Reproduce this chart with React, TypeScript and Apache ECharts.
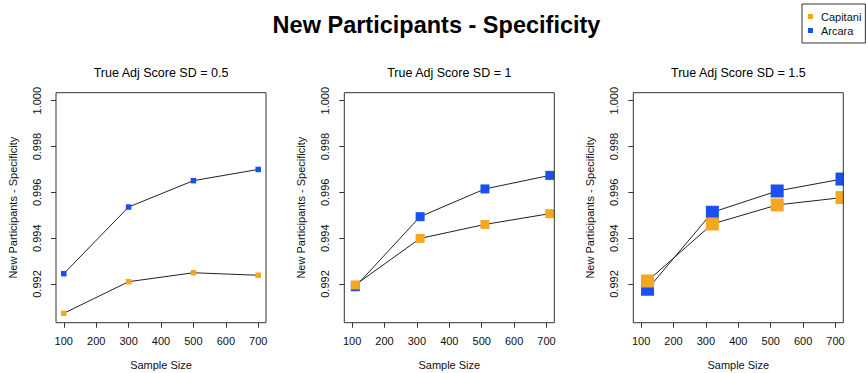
import { useEffect, useRef } from "react";
import * as echarts from "echarts";

// Panel headings and axis ticks
const mainTitle = "New Participants - Specificity";
const panelTitles = ["True Adj Score SD = 0.5", "True Adj Score SD = 1", "True Adj Score SD = 1.5"];
const sampleSizeTicks = [100, 200, 300, 400, 500, 600, 700];
const specificityTicks = [0.992, 0.994, 0.996, 0.998, 1.0];

// Sample sizes (slightly offset per panel so the points don't sit on top of each other)
const sampleSizes05 = [100, 300, 500, 700];
const sampleSizes10 = [110, 310, 510, 710];
const sampleSizes15 = [120, 320, 520, 720];

// Specificity for new participants
const capitani05 = [0.99072, 0.9921, 0.99249, 0.99238];
const arcara05 = [0.99245, 0.99536, 0.99651, 0.997];
const capitani10 = [0.99196, 0.99399, 0.9946, 0.99507];
const arcara10 = [0.99188, 0.99494, 0.99615, 0.99674];
const capitani15 = [0.99213, 0.99462, 0.99545, 0.99577];
const arcara15 = [0.99177, 0.99513, 0.99606, 0.99658];

const ORANGE = "#f5a623";
const BLUE = "#1a4ff0";
const FONT = "'Liberation Sans', Arial, Helvetica, sans-serif";

// Plot layout
const PANEL_LEFT = [56, 344.3, 633.3];
const PANEL_W = 210;
const PANEL_TOP = 92.7;
const PANEL_H = 230;
const X_MIN = 76;
const X_MAX = 724;
const Y_MIN = 0.99031;
const Y_MAX = 1.00035;
const MARKER_SIZE = [5.5, 9, 13];

const panels = [
  { x: sampleSizes05, capitani: capitani05, arcara: arcara05 },
  { x: sampleSizes10, capitani: capitani10, arcara: arcara10 },
  { x: sampleSizes15, capitani: capitani15, arcara: arcara15 },
];

const pairs = (xs: number[], ys: number[]) => xs.map((x, i) => [x, ys[i]]);

export default function App() {
  const ref = useRef<HTMLDivElement>(null);

  useEffect(() => {
    if (!ref.current) return;
    const chart = echarts.init(ref.current, undefined, { renderer: "svg" });

    const grids = PANEL_LEFT.map((left) => ({
      left,
      top: PANEL_TOP,
      width: PANEL_W,
      height: PANEL_H,
      show: false,
      outerBoundsMode: "none",
      containLabel: false,
    }));

    const xAxes = PANEL_LEFT.map((_, i) => ({
      type: "value",
      gridIndex: i,
      min: X_MIN,
      max: X_MAX,
      name: "Sample Size",
      nameLocation: "middle",
      nameGap: 37,
      nameTextStyle: { fontFamily: FONT, fontSize: 11, color: "#111" },
      axisLine: { show: false },
      axisTick: { show: true, length: 5, customValues: sampleSizeTicks, lineStyle: { color: "#333", width: 1 } },
      axisLabel: {
        customValues: sampleSizeTicks,
        margin: 13,
        fontFamily: FONT,
        fontSize: 11,
        color: "#111",
      },
      splitLine: { show: false },
    }));

    const yAxes = PANEL_LEFT.map((_, i) => ({
      type: "value",
      gridIndex: i,
      min: Y_MIN,
      max: Y_MAX,
      name: "New Participants - Specificity",
      nameLocation: "middle",
      nameRotate: 90,
      nameGap: 38,
      nameTextStyle: { fontFamily: FONT, fontSize: 11, color: "#111" },
      axisLine: { show: false },
      axisTick: { show: true, length: 5, customValues: specificityTicks, lineStyle: { color: "#333", width: 1 } },
      axisLabel: {
        customValues: specificityTicks,
        rotate: 90,
        margin: 14,
        fontFamily: FONT,
        fontSize: 11,
        color: "#111",
        formatter: (v: number) => v.toFixed(3),
      },
      splitLine: { show: false },
    }));

    const series: any[] = [];
    panels.forEach((p, i) => {
      const common = {
        type: "line",
        xAxisIndex: i,
        yAxisIndex: i,
        symbol: "rect",
        symbolSize: MARKER_SIZE[i],
        showSymbol: true,
        clip: true,
        lineStyle: { color: "#222", width: 1 },
      };
      series.push({
        ...common,
        name: "Arcara",
        color: BLUE,
        itemStyle: { color: BLUE, borderWidth: 0 },
        data: pairs(p.x, p.arcara),
      });
      series.push({
        ...common,
        name: "Capitani",
        color: ORANGE,
        itemStyle: { color: ORANGE, borderWidth: 0 },
        data: pairs(p.x, p.capitani),
      });
    });

    const titles: any[] = [
      {
        text: mainTitle,
        left: 436.5,
        top: 25,
        padding: 0,
        textAlign: "center",
        textVerticalAlign: "middle",
        textStyle: { fontFamily: FONT, fontSize: 23.5, fontWeight: "bold", color: "#000" },
      },
      ...panelTitles.map((t, i) => ({
        text: t,
        left: PANEL_LEFT[i] + PANEL_W / 2,
        top: 73,
        padding: 0,
        textAlign: "center",
        textVerticalAlign: "middle",
        textStyle: { fontFamily: FONT, fontSize: 12.5, fontWeight: "normal", color: "#000" },
      })),
    ];

    // Plot frames drawn on top of the markers; the strip right of the last
    // frame hides the part of the markers that falls outside the plot region.
    const graphic: any[] = [
      {
        type: "rect",
        shape: { x: PANEL_LEFT[2] + PANEL_W + 0.5, y: PANEL_TOP - 2, width: 40, height: PANEL_H + 2 },
        style: { fill: "#fff" },
        z: 99,
        silent: true,
      },
      ...PANEL_LEFT.map((left) => ({
        type: "rect",
        shape: { x: left, y: PANEL_TOP, width: PANEL_W, height: PANEL_H },
        style: { fill: "none", stroke: "#333", lineWidth: 1 },
        z: 100,
        silent: true,
      })),
    ];

    chart.setOption({
      animation: false,
      backgroundColor: "#fff",
      title: titles,
      legend: {
        data: [
          { name: "Capitani", itemStyle: { color: ORANGE, borderWidth: 0 } },
          { name: "Arcara", itemStyle: { color: BLUE, borderWidth: 0 } },
        ],
        left: 802,
        top: 4,
        orient: "vertical",
        icon: "rect",
        itemWidth: 5,
        itemHeight: 5,
        itemGap: 3,
        padding: [7, 4, 7, 6],
        borderColor: "#333",
        borderWidth: 1,
        textStyle: { fontFamily: FONT, fontSize: 11, color: "#111", padding: [0, 0, 0, 3] },
      },
      grid: grids,
      xAxis: xAxes,
      yAxis: yAxes,
      series,
      graphic,
    });

    return () => chart.dispose();
  }, []);

  return <div ref={ref} style={{ position: "fixed", left: 0, top: 0, width: 866, height: 373 }} />;
}
